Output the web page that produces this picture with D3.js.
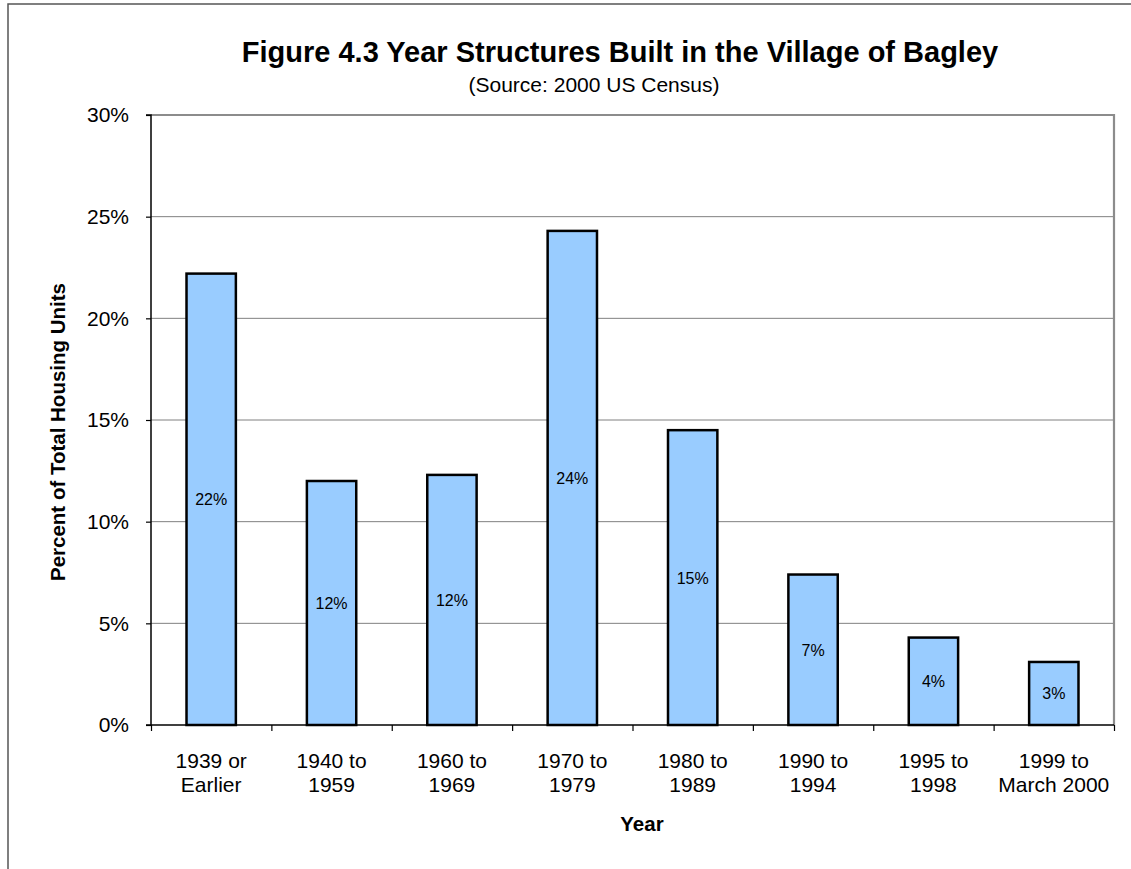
<!DOCTYPE html>
<html><head><meta charset="utf-8">
<script src="https://cdn.jsdelivr.net/npm/d3@7"></script>
<style>body{margin:0;background:#fff}svg{display:block;font-family:"Liberation Sans",Arial,sans-serif}</style>
</head><body>
<svg id="c" width="1131" height="869"></svg>
<script>
const categories = [["1939 or","Earlier"],["1940 to","1959"],["1960 to","1969"],["1970 to","1979"],["1980 to","1989"],["1990 to","1994"],["1995 to","1998"],["1999 to","March 2000"]];
const values = [22.2, 12.0, 12.3, 24.3, 14.5, 7.4, 4.3, 3.1];
const labels = ["22%","12%","12%","24%","15%","7%","4%","3%"];
const yTicks = [0,5,10,15,20,25,30];

const svg = d3.select("#c");
const L=151, R=1114, T=115, B=725;
const keys = categories.map((c,i)=>i);
const x = d3.scaleBand().domain(keys).range([L,R]).paddingInner(0.59).paddingOuter(0.295);
const xb = d3.scaleLinear().domain([0,categories.length]).range([L,R]);
const y = d3.scaleLinear().domain([0,30]).range([B,T]);

// frame
svg.append("path").attr("d",`M8,869V4H1131`).attr("fill","none").attr("stroke","#555").attr("stroke-width",1.5);

// gridlines
svg.append("g").selectAll("line").data(yTicks.filter(d=>d>0 && d<30)).join("line")
  .attr("x1",L).attr("x2",R).attr("y1",d=>y(d)).attr("y2",d=>y(d)).attr("stroke","#808080").attr("stroke-width",1);
// plot border top/right
svg.append("path").attr("d",`M${L},${y(30)}H${R}V${B}`).attr("fill","none").attr("stroke","#8c8c8c").attr("stroke-width",2.2);

// bars
svg.append("g").selectAll("rect").data(values).join("rect")
  .attr("x",(d,i)=>x(i)).attr("width",x.bandwidth())
  .attr("y",d=>y(d)).attr("height",d=>B-y(d))
  .attr("fill","#99CCFF").attr("stroke","#000").attr("stroke-width",2.5);

// value labels
svg.append("g").selectAll("text").data(values).join("text")
  .attr("x",(d,i)=>x(i)+x.bandwidth()/2).attr("y",d=>(y(d)+B)/2+6)
  .attr("text-anchor","middle").attr("font-size",16).attr("fill","#000")
  .text((d,i)=>labels[i]);

// y axis
const ya = d3.axisLeft(y).tickValues(yTicks).tickFormat(d=>d+"%").tickSize(5).tickPadding(17);
const gy = svg.append("g").attr("transform",`translate(${L},0)`).call(ya);
gy.select(".domain").attr("stroke","#000").attr("stroke-width",1.5).attr("d",`M-5,${T}H0V${B}H-5`);
gy.selectAll(".tick line").attr("stroke","#000").attr("stroke-width",1.2);
gy.selectAll(".tick text").attr("font-size",21).attr("fill","#000").attr("font-family","Liberation Sans, Arial, sans-serif");

// x axis
const xa = d3.axisBottom(xb).tickValues(d3.range(categories.length+1)).tickFormat("").tickSize(6);
const gx = svg.append("g").attr("transform",`translate(0,${B})`).call(xa);
gx.select(".domain").attr("stroke","#000").attr("stroke-width",1.5).attr("d",`M${L},0H${R}`);
gx.selectAll(".tick line").attr("stroke","#000").attr("stroke-width",1.2);

const xl = svg.append("g").selectAll("text").data(categories).join("text")
  .attr("text-anchor","middle").attr("font-size",21).attr("fill","#000")
  .attr("transform",(d,i)=>`translate(${x(i)+x.bandwidth()/2},768)`);
xl.selectAll("tspan").data(d=>d).join("tspan").attr("x",0).attr("dy",(d,j)=>j===0?0:24).text(d=>d);

// titles
svg.append("text").attr("x",620).attr("y",62).attr("text-anchor","middle").attr("font-size",29).attr("font-weight","bold").text("Figure 4.3 Year Structures Built in the Village of Bagley");
svg.append("text").attr("x",594).attr("y",92).attr("text-anchor","middle").attr("font-size",21).text("(Source: 2000 US Census)");
svg.append("text").attr("x",642).attr("y",831).attr("text-anchor","middle").attr("font-size",20.5).attr("font-weight","bold").text("Year");
svg.append("text").attr("transform","translate(65,432) rotate(-90)").attr("text-anchor","middle").attr("font-size",20.5).attr("font-weight","bold").text("Percent of Total Housing Units");
</script>
</body></html>
